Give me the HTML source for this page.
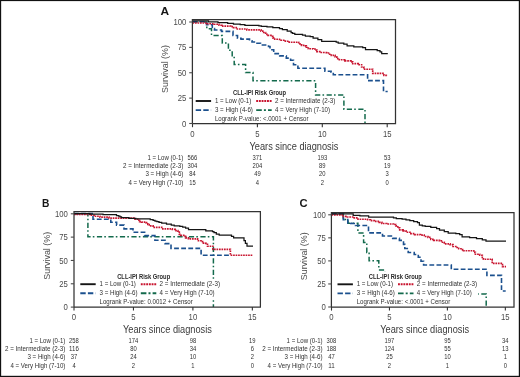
<!DOCTYPE html>
<html><head><meta charset="utf-8"><style>
html,body{margin:0;padding:0;background:#fff;width:520px;height:377px;overflow:hidden}
svg{display:block;filter:blur(0.3px)}
text{font-family:"Liberation Sans", sans-serif}
</style></head><body>
<svg width="520" height="377" viewBox="0 0 520 377" font-family='"Liberation Sans", sans-serif'>
<rect x="0" y="0" width="520" height="377" fill="#fff"/>
<text x="160.6" y="14.9" font-size="11" text-anchor="start" font-weight="bold" fill="#161616" textLength="8.6" lengthAdjust="spacingAndGlyphs">A</text>
<path d="M192.50,22.00 H206.80 V28.80 H211.50 V35.50 H222.30 V42.90 H228.40 V50.30 H232.20 V57.50 H234.20 V64.50 H245.60 V72.60 H253.00 V80.70 H315.60 V94.90 H343.90 V109.20 H365.00 V123.50" fill="none" stroke="#136a4c" stroke-width="1.5" stroke-dasharray="5.2 2.2 1.6 2.5" stroke-linejoin="miter" stroke-linecap="butt"/>
<path d="M192.50,21.80 H206.50 V24.70 H212.30 V28.50 H214.50 V30.00 H221.50 V31.40 H233.00 V35.50 H237.50 V38.20 H241.00 V39.10 H249.50 V40.80 H252.00 V42.00 H257.00 V43.30 H260.50 V45.00 H268.50 V46.50 H270.00 V49.70 H273.70 V53.60 H279.70 V55.90 H286.30 V58.10 H290.60 V60.30 H293.50 V64.70 H297.90 V68.30 H324.90 V71.20 H331.10 V72.30 H333.30 V74.70 H367.60 V80.60 H383.50 V91.50 H387.70 V91.50" fill="none" stroke="#1b508e" stroke-width="1.6" stroke-dasharray="4.8 2.3" stroke-linejoin="miter" stroke-linecap="butt"/>
<path d="M192.50,23.00 H207.00 V23.70 H214.20 V24.20 H219.00 V25.20 H221.90 V26.10 H230.60 V26.60 H233.50 V27.60 H237.30 V29.00 H246.80 V29.80 H261.00 V31.10 H263.70 V32.50 H265.60 V34.40 H268.00 V35.40 H270.90 V36.30 H272.80 V37.80 H274.70 V39.20 H279.50 V40.20 H285.30 V41.20 H289.20 V42.20 H298.70 V43.90 H301.50 V45.30 H304.40 V45.80 H306.30 V47.20 H308.30 V48.70 H313.10 V49.00 H315.00 V50.10 H316.90 V51.60 H319.80 V52.50 H326.50 V53.00 H328.50 V54.20 H331.30 V55.40 H335.20 V56.80 H336.80 V58.60 H339.30 V59.70 H344.90 V60.80 H351.00 V61.90 H352.70 V63.60 H358.30 V64.70 H361.60 V67.00 H363.80 V69.20 H372.70 V73.40 H383.90 V75.30 H387.80 V75.30" fill="none" stroke="#c8142f" stroke-width="1.65" stroke-dasharray="1.7 0.8" stroke-linejoin="miter" stroke-linecap="butt"/>
<path d="M192.50,20.90 H208.50 V21.80 H218.00 V22.60 H227.70 V23.30 H233.50 V24.20 H240.20 V24.60 H244.90 V25.30 H258.90 V25.80 H261.30 V26.30 H267.00 V26.90 H272.80 V27.70 H279.50 V28.50 H282.40 V29.60 H287.20 V31.10 H291.10 V32.60 H292.50 V33.30 H294.80 V34.30 H302.50 V35.20 H305.40 V36.20 H310.20 V36.70 H313.10 V38.10 H317.90 V39.50 H321.70 V41.30 H336.20 V42.00 H338.20 V43.00 H343.80 V44.10 H347.10 V45.80 H353.80 V46.90 H362.70 V47.50 H365.50 V49.70 H377.20 V50.50 H380.00 V51.90 H381.70 V53.60 H387.80 V53.60" fill="none" stroke="#151515" stroke-width="1.25" stroke-linejoin="miter" stroke-linecap="butt"/>
<path d="M192.4,123.6 V19.7 H395.5 V123.6 H192.4" fill="none" stroke="#333" stroke-width="1.25"/>
<line x1="189.20000000000002" y1="123.50" x2="192.4" y2="123.50" stroke="#4a4a4a" stroke-width="1.1"/>
<text x="186.4" y="126.6" font-size="8.9" text-anchor="end" font-weight="normal" fill="#4a4a4a" textLength="4.31" lengthAdjust="spacingAndGlyphs">0</text>
<line x1="189.20000000000002" y1="98.12" x2="192.4" y2="98.12" stroke="#4a4a4a" stroke-width="1.1"/>
<text x="186.4" y="101.22" font-size="8.9" text-anchor="end" font-weight="normal" fill="#4a4a4a" textLength="8.61" lengthAdjust="spacingAndGlyphs">25</text>
<line x1="189.20000000000002" y1="72.75" x2="192.4" y2="72.75" stroke="#4a4a4a" stroke-width="1.1"/>
<text x="186.4" y="75.85" font-size="8.9" text-anchor="end" font-weight="normal" fill="#4a4a4a" textLength="8.61" lengthAdjust="spacingAndGlyphs">50</text>
<line x1="189.20000000000002" y1="47.38" x2="192.4" y2="47.38" stroke="#4a4a4a" stroke-width="1.1"/>
<text x="186.4" y="50.48" font-size="8.9" text-anchor="end" font-weight="normal" fill="#4a4a4a" textLength="8.61" lengthAdjust="spacingAndGlyphs">75</text>
<line x1="189.20000000000002" y1="22.00" x2="192.4" y2="22.00" stroke="#4a4a4a" stroke-width="1.1"/>
<text x="186.4" y="25.1" font-size="8.9" text-anchor="end" font-weight="normal" fill="#4a4a4a" textLength="12.92" lengthAdjust="spacingAndGlyphs">100</text>
<line x1="192.50" y1="123.6" x2="192.50" y2="127.19999999999999" stroke="#333" stroke-width="1.1"/>
<text x="192.5" y="137.0" font-size="8.9" text-anchor="middle" font-weight="normal" fill="#4a4a4a" textLength="4.31" lengthAdjust="spacingAndGlyphs">0</text>
<line x1="257.40" y1="123.6" x2="257.40" y2="127.19999999999999" stroke="#333" stroke-width="1.1"/>
<text x="257.4" y="137.0" font-size="8.9" text-anchor="middle" font-weight="normal" fill="#4a4a4a" textLength="4.31" lengthAdjust="spacingAndGlyphs">5</text>
<line x1="322.30" y1="123.6" x2="322.30" y2="127.19999999999999" stroke="#333" stroke-width="1.1"/>
<text x="322.3" y="137.0" font-size="8.9" text-anchor="middle" font-weight="normal" fill="#4a4a4a" textLength="8.61" lengthAdjust="spacingAndGlyphs">10</text>
<line x1="387.20" y1="123.6" x2="387.20" y2="127.19999999999999" stroke="#333" stroke-width="1.1"/>
<text x="387.2" y="137.0" font-size="8.9" text-anchor="middle" font-weight="normal" fill="#4a4a4a" textLength="8.61" lengthAdjust="spacingAndGlyphs">15</text>
<text transform="translate(168.2,69.0) rotate(-90)" x="0" y="0" font-size="8.9" text-anchor="middle" fill="#4a4a4a">Survival (%)</text>
<text x="249.5" y="149.9" font-size="10.0" text-anchor="start" font-weight="normal" fill="#3a3a3a" textLength="88.9" lengthAdjust="spacingAndGlyphs">Years since diagnosis</text>
<text x="233.0" y="94.9" font-size="6.4" text-anchor="start" font-weight="bold" fill="#2a2a2a" textLength="53.0" lengthAdjust="spacingAndGlyphs">CLL-IPI Risk Group</text>
<line x1="195.7" y1="101.0" x2="211.1" y2="101.0" stroke="#151515" stroke-width="1.9"/>
<line x1="256.2" y1="101.0" x2="271.7" y2="101.0" stroke="#c8142f" stroke-width="1.9" stroke-dasharray="1.9 0.8"/>
<line x1="195.7" y1="110.1" x2="211.1" y2="110.1" stroke="#1b508e" stroke-width="1.9" stroke-dasharray="5.4 2.2"/>
<line x1="256.2" y1="110.1" x2="271.7" y2="110.1" stroke="#136a4c" stroke-width="1.9" stroke-dasharray="5.6 2.1 2 2.1"/>
<text x="214.89999999999998" y="102.9" font-size="6.5" text-anchor="start" font-weight="normal" fill="#303030" textLength="36.4" lengthAdjust="spacingAndGlyphs">1 = Low (0-1)</text>
<text x="275.0" y="102.9" font-size="6.5" text-anchor="start" font-weight="normal" fill="#303030" textLength="60.4" lengthAdjust="spacingAndGlyphs">2 = Intermediate (2-3)</text>
<text x="214.89999999999998" y="112.0" font-size="6.5" text-anchor="start" font-weight="normal" fill="#303030" textLength="38.0" lengthAdjust="spacingAndGlyphs">3 = High (4-6)</text>
<text x="275.0" y="112.0" font-size="6.5" text-anchor="start" font-weight="normal" fill="#303030" textLength="55.0" lengthAdjust="spacingAndGlyphs">4 = Very High (7-10)</text>
<text x="214.89999999999998" y="120.80000000000001" font-size="6.5" text-anchor="start" font-weight="normal" fill="#303030" textLength="93.6" lengthAdjust="spacingAndGlyphs">Logrank P-value: &lt;.0001 + Censor</text>
<text x="183.4" y="159.8" font-size="6.5" text-anchor="end" font-weight="normal" fill="#303030" textLength="36.0" lengthAdjust="spacingAndGlyphs">1 = Low (0-1)</text>
<text x="192.5" y="159.8" font-size="6.5" text-anchor="middle" font-weight="normal" fill="#303030" textLength="9.76" lengthAdjust="spacingAndGlyphs">566</text>
<text x="257.4" y="159.8" font-size="6.5" text-anchor="middle" font-weight="normal" fill="#303030" textLength="9.76" lengthAdjust="spacingAndGlyphs">371</text>
<text x="322.3" y="159.8" font-size="6.5" text-anchor="middle" font-weight="normal" fill="#303030" textLength="9.76" lengthAdjust="spacingAndGlyphs">193</text>
<text x="387.2" y="159.8" font-size="6.5" text-anchor="middle" font-weight="normal" fill="#303030" textLength="6.51" lengthAdjust="spacingAndGlyphs">53</text>
<text x="183.4" y="168.0" font-size="6.5" text-anchor="end" font-weight="normal" fill="#303030" textLength="60.4" lengthAdjust="spacingAndGlyphs">2 = Intermediate (2-3)</text>
<text x="192.5" y="168.0" font-size="6.5" text-anchor="middle" font-weight="normal" fill="#303030" textLength="9.76" lengthAdjust="spacingAndGlyphs">304</text>
<text x="257.4" y="168.0" font-size="6.5" text-anchor="middle" font-weight="normal" fill="#303030" textLength="9.76" lengthAdjust="spacingAndGlyphs">204</text>
<text x="322.3" y="168.0" font-size="6.5" text-anchor="middle" font-weight="normal" fill="#303030" textLength="6.51" lengthAdjust="spacingAndGlyphs">89</text>
<text x="387.2" y="168.0" font-size="6.5" text-anchor="middle" font-weight="normal" fill="#303030" textLength="6.51" lengthAdjust="spacingAndGlyphs">19</text>
<text x="183.4" y="176.3" font-size="6.5" text-anchor="end" font-weight="normal" fill="#303030" textLength="38.0" lengthAdjust="spacingAndGlyphs">3 = High (4-6)</text>
<text x="192.5" y="176.3" font-size="6.5" text-anchor="middle" font-weight="normal" fill="#303030" textLength="6.51" lengthAdjust="spacingAndGlyphs">84</text>
<text x="257.4" y="176.3" font-size="6.5" text-anchor="middle" font-weight="normal" fill="#303030" textLength="6.51" lengthAdjust="spacingAndGlyphs">49</text>
<text x="322.3" y="176.3" font-size="6.5" text-anchor="middle" font-weight="normal" fill="#303030" textLength="6.51" lengthAdjust="spacingAndGlyphs">20</text>
<text x="387.2" y="176.3" font-size="6.5" text-anchor="middle" font-weight="normal" fill="#303030" textLength="3.25" lengthAdjust="spacingAndGlyphs">3</text>
<text x="183.4" y="184.5" font-size="6.5" text-anchor="end" font-weight="normal" fill="#303030" textLength="55.0" lengthAdjust="spacingAndGlyphs">4 = Very High (7-10)</text>
<text x="192.5" y="184.5" font-size="6.5" text-anchor="middle" font-weight="normal" fill="#303030" textLength="6.51" lengthAdjust="spacingAndGlyphs">15</text>
<text x="257.4" y="184.5" font-size="6.5" text-anchor="middle" font-weight="normal" fill="#303030" textLength="3.25" lengthAdjust="spacingAndGlyphs">4</text>
<text x="322.3" y="184.5" font-size="6.5" text-anchor="middle" font-weight="normal" fill="#303030" textLength="3.25" lengthAdjust="spacingAndGlyphs">2</text>
<text x="387.2" y="184.5" font-size="6.5" text-anchor="middle" font-weight="normal" fill="#303030" textLength="3.25" lengthAdjust="spacingAndGlyphs">0</text>
<text x="42.0" y="206.8" font-size="11" text-anchor="start" font-weight="bold" fill="#161616" textLength="7.4" lengthAdjust="spacingAndGlyphs">B</text>
<path d="M74.00,213.70 H87.90 V236.80 H213.40 V307.00" fill="none" stroke="#136a4c" stroke-width="1.5" stroke-dasharray="5.2 2.2 1.6 2.5" stroke-linejoin="miter" stroke-linecap="butt"/>
<path d="M74.00,213.60 H93.00 V219.20 H110.80 V222.20 H116.60 V225.10 H124.00 V228.90 H133.00 V232.20 H144.60 V235.60 H154.90 V240.30 H165.00 V243.60 H171.00 V248.40 H201.10 V255.20 H230.40 V255.20" fill="none" stroke="#1b508e" stroke-width="1.6" stroke-dasharray="4.8 2.3" stroke-linejoin="miter" stroke-linecap="butt"/>
<path d="M74.00,214.30 H90.50 V215.20 H94.00 V216.20 H100.00 V217.10 H109.00 V218.10 H134.00 V219.20 H137.70 V220.20 H139.60 V221.60 H141.50 V222.10 H145.90 V222.60 H147.80 V224.50 H149.20 V225.90 H153.10 V227.40 H161.70 V228.80 H172.30 V229.30 H175.20 V230.60 H177.90 V232.10 H179.30 V234.40 H180.80 V235.40 H183.70 V236.30 H185.60 V237.80 H188.50 V238.80 H197.60 V240.70 H201.00 V241.60 H203.40 V243.10 H205.80 V244.20 H207.50 V246.20 H212.90 V249.30 H230.40 V255.20 H253.00 V255.20" fill="none" stroke="#c8142f" stroke-width="1.65" stroke-dasharray="1.7 0.8" stroke-linejoin="miter" stroke-linecap="butt"/>
<path d="M74.00,213.50 H89.80 V214.20 H103.00 V214.70 H116.50 V215.50 H118.60 V216.20 H120.00 V216.90 H121.50 V217.60 H129.00 V218.40 H135.80 V218.90 H150.20 V219.70 H153.10 V220.40 H155.00 V221.10 H156.90 V221.60 H159.00 V222.30 H161.70 V223.10 H166.50 V224.00 H171.30 V225.00 H174.20 V225.90 H179.80 V226.30 H182.70 V227.20 H185.60 V228.20 H188.50 V229.60 H205.80 V230.80 H212.50 V231.60 H214.00 V232.50 H216.30 V234.00 H219.20 V235.20 H231.50 V236.30 H233.60 V237.90 H244.00 V240.60 H245.40 V243.40 H247.00 V246.20 H253.00 V246.20" fill="none" stroke="#151515" stroke-width="1.25" stroke-linejoin="miter" stroke-linecap="butt"/>
<rect x="78" y="279.6" width="146" height="18.4" fill="#fff"/>
<path d="M74.0,307.0 V211.7 H260.4 V307.0 H74.0" fill="none" stroke="#333" stroke-width="1.25"/>
<line x1="70.8" y1="307.10" x2="74.0" y2="307.10" stroke="#4a4a4a" stroke-width="1.1"/>
<text x="67.8" y="310.2" font-size="8.9" text-anchor="end" font-weight="normal" fill="#4a4a4a" textLength="4.31" lengthAdjust="spacingAndGlyphs">0</text>
<line x1="70.8" y1="283.78" x2="74.0" y2="283.78" stroke="#4a4a4a" stroke-width="1.1"/>
<text x="67.8" y="286.88" font-size="8.9" text-anchor="end" font-weight="normal" fill="#4a4a4a" textLength="8.61" lengthAdjust="spacingAndGlyphs">25</text>
<line x1="70.8" y1="260.45" x2="74.0" y2="260.45" stroke="#4a4a4a" stroke-width="1.1"/>
<text x="67.8" y="263.55" font-size="8.9" text-anchor="end" font-weight="normal" fill="#4a4a4a" textLength="8.61" lengthAdjust="spacingAndGlyphs">50</text>
<line x1="70.8" y1="237.12" x2="74.0" y2="237.12" stroke="#4a4a4a" stroke-width="1.1"/>
<text x="67.8" y="240.22" font-size="8.9" text-anchor="end" font-weight="normal" fill="#4a4a4a" textLength="8.61" lengthAdjust="spacingAndGlyphs">75</text>
<line x1="70.8" y1="213.80" x2="74.0" y2="213.80" stroke="#4a4a4a" stroke-width="1.1"/>
<text x="67.8" y="216.9" font-size="8.9" text-anchor="end" font-weight="normal" fill="#4a4a4a" textLength="12.92" lengthAdjust="spacingAndGlyphs">100</text>
<line x1="74.00" y1="307.0" x2="74.00" y2="310.6" stroke="#333" stroke-width="1.1"/>
<text x="74.0" y="319.5" font-size="8.9" text-anchor="middle" font-weight="normal" fill="#4a4a4a" textLength="4.31" lengthAdjust="spacingAndGlyphs">0</text>
<line x1="133.45" y1="307.0" x2="133.45" y2="310.6" stroke="#333" stroke-width="1.1"/>
<text x="133.45" y="319.5" font-size="8.9" text-anchor="middle" font-weight="normal" fill="#4a4a4a" textLength="4.31" lengthAdjust="spacingAndGlyphs">5</text>
<line x1="192.90" y1="307.0" x2="192.90" y2="310.6" stroke="#333" stroke-width="1.1"/>
<text x="192.9" y="319.5" font-size="8.9" text-anchor="middle" font-weight="normal" fill="#4a4a4a" textLength="8.61" lengthAdjust="spacingAndGlyphs">10</text>
<line x1="252.35" y1="307.0" x2="252.35" y2="310.6" stroke="#333" stroke-width="1.1"/>
<text x="252.35" y="319.5" font-size="8.9" text-anchor="middle" font-weight="normal" fill="#4a4a4a" textLength="8.61" lengthAdjust="spacingAndGlyphs">15</text>
<text transform="translate(49.6,255.8) rotate(-90)" x="0" y="0" font-size="8.9" text-anchor="middle" fill="#4a4a4a">Survival (%)</text>
<text x="123.0" y="332.8" font-size="10.0" text-anchor="start" font-weight="normal" fill="#3a3a3a" textLength="88.9" lengthAdjust="spacingAndGlyphs">Years since diagnosis</text>
<text x="117.2" y="278.5" font-size="6.4" text-anchor="start" font-weight="bold" fill="#2a2a2a" textLength="53.0" lengthAdjust="spacingAndGlyphs">CLL-IPI Risk Group</text>
<line x1="80.3" y1="284.2" x2="95.7" y2="284.2" stroke="#151515" stroke-width="1.9"/>
<line x1="140.8" y1="284.2" x2="156.3" y2="284.2" stroke="#c8142f" stroke-width="1.9" stroke-dasharray="1.9 0.8"/>
<line x1="80.3" y1="293.3" x2="95.7" y2="293.3" stroke="#1b508e" stroke-width="1.9" stroke-dasharray="5.4 2.2"/>
<line x1="140.8" y1="293.3" x2="156.3" y2="293.3" stroke="#136a4c" stroke-width="1.9" stroke-dasharray="5.6 2.1 2 2.1"/>
<text x="99.5" y="286.09999999999997" font-size="6.5" text-anchor="start" font-weight="normal" fill="#303030" textLength="36.4" lengthAdjust="spacingAndGlyphs">1 = Low (0-1)</text>
<text x="159.6" y="286.09999999999997" font-size="6.5" text-anchor="start" font-weight="normal" fill="#303030" textLength="60.4" lengthAdjust="spacingAndGlyphs">2 = Intermediate (2-3)</text>
<text x="99.5" y="295.2" font-size="6.5" text-anchor="start" font-weight="normal" fill="#303030" textLength="38.0" lengthAdjust="spacingAndGlyphs">3 = High (4-6)</text>
<text x="159.6" y="295.2" font-size="6.5" text-anchor="start" font-weight="normal" fill="#303030" textLength="55.0" lengthAdjust="spacingAndGlyphs">4 = Very High (7-10)</text>
<text x="99.5" y="303.99999999999994" font-size="6.5" text-anchor="start" font-weight="normal" fill="#303030" textLength="93.3" lengthAdjust="spacingAndGlyphs">Logrank P-value: 0.0012 + Censor</text>
<text x="65.4" y="343.0" font-size="6.5" text-anchor="end" font-weight="normal" fill="#303030" textLength="36.0" lengthAdjust="spacingAndGlyphs">1 = Low (0-1)</text>
<text x="74.0" y="343.0" font-size="6.5" text-anchor="middle" font-weight="normal" fill="#303030" textLength="9.76" lengthAdjust="spacingAndGlyphs">258</text>
<text x="133.45" y="343.0" font-size="6.5" text-anchor="middle" font-weight="normal" fill="#303030" textLength="9.76" lengthAdjust="spacingAndGlyphs">174</text>
<text x="192.9" y="343.0" font-size="6.5" text-anchor="middle" font-weight="normal" fill="#303030" textLength="6.51" lengthAdjust="spacingAndGlyphs">98</text>
<text x="252.35" y="343.0" font-size="6.5" text-anchor="middle" font-weight="normal" fill="#303030" textLength="6.51" lengthAdjust="spacingAndGlyphs">19</text>
<text x="65.4" y="351.2" font-size="6.5" text-anchor="end" font-weight="normal" fill="#303030" textLength="60.4" lengthAdjust="spacingAndGlyphs">2 = Intermediate (2-3)</text>
<text x="74.0" y="351.2" font-size="6.5" text-anchor="middle" font-weight="normal" fill="#303030" textLength="9.76" lengthAdjust="spacingAndGlyphs">116</text>
<text x="133.45" y="351.2" font-size="6.5" text-anchor="middle" font-weight="normal" fill="#303030" textLength="6.51" lengthAdjust="spacingAndGlyphs">80</text>
<text x="192.9" y="351.2" font-size="6.5" text-anchor="middle" font-weight="normal" fill="#303030" textLength="6.51" lengthAdjust="spacingAndGlyphs">34</text>
<text x="252.35" y="351.2" font-size="6.5" text-anchor="middle" font-weight="normal" fill="#303030" textLength="3.25" lengthAdjust="spacingAndGlyphs">6</text>
<text x="65.4" y="359.4" font-size="6.5" text-anchor="end" font-weight="normal" fill="#303030" textLength="38.0" lengthAdjust="spacingAndGlyphs">3 = High (4-6)</text>
<text x="74.0" y="359.4" font-size="6.5" text-anchor="middle" font-weight="normal" fill="#303030" textLength="6.51" lengthAdjust="spacingAndGlyphs">37</text>
<text x="133.45" y="359.4" font-size="6.5" text-anchor="middle" font-weight="normal" fill="#303030" textLength="6.51" lengthAdjust="spacingAndGlyphs">24</text>
<text x="192.9" y="359.4" font-size="6.5" text-anchor="middle" font-weight="normal" fill="#303030" textLength="6.51" lengthAdjust="spacingAndGlyphs">10</text>
<text x="252.35" y="359.4" font-size="6.5" text-anchor="middle" font-weight="normal" fill="#303030" textLength="3.25" lengthAdjust="spacingAndGlyphs">2</text>
<text x="65.4" y="367.6" font-size="6.5" text-anchor="end" font-weight="normal" fill="#303030" textLength="55.0" lengthAdjust="spacingAndGlyphs">4 = Very High (7-10)</text>
<text x="74.0" y="367.6" font-size="6.5" text-anchor="middle" font-weight="normal" fill="#303030" textLength="3.25" lengthAdjust="spacingAndGlyphs">4</text>
<text x="133.45" y="367.6" font-size="6.5" text-anchor="middle" font-weight="normal" fill="#303030" textLength="3.25" lengthAdjust="spacingAndGlyphs">2</text>
<text x="192.9" y="367.6" font-size="6.5" text-anchor="middle" font-weight="normal" fill="#303030" textLength="3.25" lengthAdjust="spacingAndGlyphs">1</text>
<text x="252.35" y="367.6" font-size="6.5" text-anchor="middle" font-weight="normal" fill="#303030" textLength="3.25" lengthAdjust="spacingAndGlyphs">0</text>
<text x="299.6" y="207.2" font-size="11" text-anchor="start" font-weight="bold" fill="#161616" textLength="8.1" lengthAdjust="spacingAndGlyphs">C</text>
<path d="M331.50,213.80 H343.30 V219.60 H348.00 V223.20 H357.90 V232.90 H363.60 V242.40 H366.80 V252.50 H369.10 V260.80 H378.80 V269.90 H385.00 V294.00 H486.20 V307.00" fill="none" stroke="#136a4c" stroke-width="1.5" stroke-dasharray="5.2 2.2 1.6 2.5" stroke-linejoin="miter" stroke-linecap="butt"/>
<path d="M331.50,213.80 H343.30 V219.60 H347.80 V223.00 H350.80 V223.50 H355.50 V225.50 H368.50 V232.90 H382.50 V236.00 H392.70 V238.40 H399.40 V240.40 H403.50 V244.40 H404.80 V248.50 H408.20 V252.50 H414.20 V254.50 H418.30 V257.20 H421.00 V261.20 H423.60 V265.00 H451.30 V269.20 H486.90 V275.40 H501.50 V291.00 H505.70 V291.00" fill="none" stroke="#1b508e" stroke-width="1.6" stroke-dasharray="4.8 2.3" stroke-linejoin="miter" stroke-linecap="butt"/>
<path d="M331.50,214.80 H342.20 V216.30 H347.40 V217.00 H354.20 V217.90 H358.00 V219.20 H367.60 V219.70 H370.50 V220.60 H374.30 V221.40 H379.20 V222.30 H381.90 V223.50 H386.70 V224.00 H393.50 V224.50 H395.90 V225.90 H397.80 V227.90 H399.70 V229.80 H403.10 V230.80 H406.00 V232.20 H410.80 V233.60 H414.60 V234.60 H420.40 V235.10 H424.20 V236.50 H428.00 V237.40 H430.80 V239.30 H433.70 V240.30 H439.50 V240.80 H441.40 V242.20 H444.30 V243.90 H450.10 V244.60 H453.00 V246.50 H455.80 V247.50 H458.70 V248.70 H462.60 V249.90 H463.50 V250.70 H473.80 V252.30 H475.40 V254.20 H479.70 V255.20 H482.30 V257.40 H483.40 V259.20 H492.20 V263.40 H502.50 V266.60 H506.00 V266.60" fill="none" stroke="#c8142f" stroke-width="1.65" stroke-dasharray="1.7 0.8" stroke-linejoin="miter" stroke-linecap="butt"/>
<path d="M331.50,213.80 H353.20 V215.30 H359.90 V215.80 H368.60 V217.00 H386.70 V217.20 H393.50 V217.80 H396.30 V218.50 H402.10 V219.20 H406.00 V219.90 H409.80 V220.70 H413.70 V221.60 H417.50 V222.60 H419.40 V225.00 H422.30 V225.90 H425.20 V226.30 H430.80 V227.30 H436.60 V228.70 H439.50 V230.20 H444.30 V231.60 H448.20 V233.10 H455.80 V233.50 H459.70 V234.50 H462.10 V236.90 H469.60 V237.60 H476.50 V238.50 H482.30 V239.80 H486.00 V241.10 H506.00 V241.10" fill="none" stroke="#151515" stroke-width="1.25" stroke-linejoin="miter" stroke-linecap="butt"/>
<rect x="335" y="271.2" width="143" height="26.4" fill="#fff"/>
<path d="M331.4,307.0 V212.6 H514.0 V307.0 H331.4" fill="none" stroke="#333" stroke-width="1.25"/>
<line x1="328.2" y1="307.00" x2="331.4" y2="307.00" stroke="#4a4a4a" stroke-width="1.1"/>
<text x="325.9" y="310.1" font-size="8.9" text-anchor="end" font-weight="normal" fill="#4a4a4a" textLength="4.31" lengthAdjust="spacingAndGlyphs">0</text>
<line x1="328.2" y1="283.95" x2="331.4" y2="283.95" stroke="#4a4a4a" stroke-width="1.1"/>
<text x="325.9" y="287.05" font-size="8.9" text-anchor="end" font-weight="normal" fill="#4a4a4a" textLength="8.61" lengthAdjust="spacingAndGlyphs">25</text>
<line x1="328.2" y1="260.90" x2="331.4" y2="260.90" stroke="#4a4a4a" stroke-width="1.1"/>
<text x="325.9" y="264.0" font-size="8.9" text-anchor="end" font-weight="normal" fill="#4a4a4a" textLength="8.61" lengthAdjust="spacingAndGlyphs">50</text>
<line x1="328.2" y1="237.85" x2="331.4" y2="237.85" stroke="#4a4a4a" stroke-width="1.1"/>
<text x="325.9" y="240.95" font-size="8.9" text-anchor="end" font-weight="normal" fill="#4a4a4a" textLength="8.61" lengthAdjust="spacingAndGlyphs">75</text>
<line x1="328.2" y1="214.80" x2="331.4" y2="214.80" stroke="#4a4a4a" stroke-width="1.1"/>
<text x="325.9" y="217.9" font-size="8.9" text-anchor="end" font-weight="normal" fill="#4a4a4a" textLength="12.92" lengthAdjust="spacingAndGlyphs">100</text>
<line x1="331.50" y1="307.0" x2="331.50" y2="310.6" stroke="#333" stroke-width="1.1"/>
<text x="331.5" y="319.5" font-size="8.9" text-anchor="middle" font-weight="normal" fill="#4a4a4a" textLength="4.31" lengthAdjust="spacingAndGlyphs">0</text>
<line x1="389.45" y1="307.0" x2="389.45" y2="310.6" stroke="#333" stroke-width="1.1"/>
<text x="389.45" y="319.5" font-size="8.9" text-anchor="middle" font-weight="normal" fill="#4a4a4a" textLength="4.31" lengthAdjust="spacingAndGlyphs">5</text>
<line x1="447.40" y1="307.0" x2="447.40" y2="310.6" stroke="#333" stroke-width="1.1"/>
<text x="447.4" y="319.5" font-size="8.9" text-anchor="middle" font-weight="normal" fill="#4a4a4a" textLength="8.61" lengthAdjust="spacingAndGlyphs">10</text>
<line x1="505.35" y1="307.0" x2="505.35" y2="310.6" stroke="#333" stroke-width="1.1"/>
<text x="505.35" y="319.5" font-size="8.9" text-anchor="middle" font-weight="normal" fill="#4a4a4a" textLength="8.61" lengthAdjust="spacingAndGlyphs">15</text>
<text transform="translate(306.9,256.3) rotate(-90)" x="0" y="0" font-size="8.9" text-anchor="middle" fill="#4a4a4a">Survival (%)</text>
<text x="380.2" y="332.8" font-size="10.0" text-anchor="start" font-weight="normal" fill="#3a3a3a" textLength="88.9" lengthAdjust="spacingAndGlyphs">Years since diagnosis</text>
<text x="368.8" y="278.5" font-size="6.4" text-anchor="start" font-weight="bold" fill="#2a2a2a" textLength="53.0" lengthAdjust="spacingAndGlyphs">CLL-IPI Risk Group</text>
<line x1="337.5" y1="284.3" x2="352.9" y2="284.3" stroke="#151515" stroke-width="1.9"/>
<line x1="398.0" y1="284.3" x2="413.5" y2="284.3" stroke="#c8142f" stroke-width="1.9" stroke-dasharray="1.9 0.8"/>
<line x1="337.5" y1="293.40000000000003" x2="352.9" y2="293.40000000000003" stroke="#1b508e" stroke-width="1.9" stroke-dasharray="5.4 2.2"/>
<line x1="398.0" y1="293.40000000000003" x2="413.5" y2="293.40000000000003" stroke="#136a4c" stroke-width="1.9" stroke-dasharray="5.6 2.1 2 2.1"/>
<text x="356.7" y="286.2" font-size="6.5" text-anchor="start" font-weight="normal" fill="#303030" textLength="36.4" lengthAdjust="spacingAndGlyphs">1 = Low (0-1)</text>
<text x="416.8" y="286.2" font-size="6.5" text-anchor="start" font-weight="normal" fill="#303030" textLength="60.4" lengthAdjust="spacingAndGlyphs">2 = Intermediate (2-3)</text>
<text x="356.7" y="295.3" font-size="6.5" text-anchor="start" font-weight="normal" fill="#303030" textLength="38.0" lengthAdjust="spacingAndGlyphs">3 = High (4-6)</text>
<text x="416.8" y="295.3" font-size="6.5" text-anchor="start" font-weight="normal" fill="#303030" textLength="55.0" lengthAdjust="spacingAndGlyphs">4 = Very High (7-10)</text>
<text x="356.7" y="304.09999999999997" font-size="6.5" text-anchor="start" font-weight="normal" fill="#303030" textLength="93.6" lengthAdjust="spacingAndGlyphs">Logrank P-value: &lt;.0001 + Censor</text>
<text x="322.6" y="343.0" font-size="6.5" text-anchor="end" font-weight="normal" fill="#303030" textLength="36.0" lengthAdjust="spacingAndGlyphs">1 = Low (0-1)</text>
<text x="331.5" y="343.0" font-size="6.5" text-anchor="middle" font-weight="normal" fill="#303030" textLength="9.76" lengthAdjust="spacingAndGlyphs">308</text>
<text x="389.45" y="343.0" font-size="6.5" text-anchor="middle" font-weight="normal" fill="#303030" textLength="9.76" lengthAdjust="spacingAndGlyphs">197</text>
<text x="447.4" y="343.0" font-size="6.5" text-anchor="middle" font-weight="normal" fill="#303030" textLength="6.51" lengthAdjust="spacingAndGlyphs">95</text>
<text x="505.35" y="343.0" font-size="6.5" text-anchor="middle" font-weight="normal" fill="#303030" textLength="6.51" lengthAdjust="spacingAndGlyphs">34</text>
<text x="322.6" y="351.2" font-size="6.5" text-anchor="end" font-weight="normal" fill="#303030" textLength="60.4" lengthAdjust="spacingAndGlyphs">2 = Intermediate (2-3)</text>
<text x="331.5" y="351.2" font-size="6.5" text-anchor="middle" font-weight="normal" fill="#303030" textLength="9.76" lengthAdjust="spacingAndGlyphs">188</text>
<text x="389.45" y="351.2" font-size="6.5" text-anchor="middle" font-weight="normal" fill="#303030" textLength="9.76" lengthAdjust="spacingAndGlyphs">124</text>
<text x="447.4" y="351.2" font-size="6.5" text-anchor="middle" font-weight="normal" fill="#303030" textLength="6.51" lengthAdjust="spacingAndGlyphs">55</text>
<text x="505.35" y="351.2" font-size="6.5" text-anchor="middle" font-weight="normal" fill="#303030" textLength="6.51" lengthAdjust="spacingAndGlyphs">13</text>
<text x="322.6" y="359.4" font-size="6.5" text-anchor="end" font-weight="normal" fill="#303030" textLength="38.0" lengthAdjust="spacingAndGlyphs">3 = High (4-6)</text>
<text x="331.5" y="359.4" font-size="6.5" text-anchor="middle" font-weight="normal" fill="#303030" textLength="6.51" lengthAdjust="spacingAndGlyphs">47</text>
<text x="389.45" y="359.4" font-size="6.5" text-anchor="middle" font-weight="normal" fill="#303030" textLength="6.51" lengthAdjust="spacingAndGlyphs">25</text>
<text x="447.4" y="359.4" font-size="6.5" text-anchor="middle" font-weight="normal" fill="#303030" textLength="6.51" lengthAdjust="spacingAndGlyphs">10</text>
<text x="505.35" y="359.4" font-size="6.5" text-anchor="middle" font-weight="normal" fill="#303030" textLength="3.25" lengthAdjust="spacingAndGlyphs">1</text>
<text x="322.6" y="367.6" font-size="6.5" text-anchor="end" font-weight="normal" fill="#303030" textLength="55.0" lengthAdjust="spacingAndGlyphs">4 = Very High (7-10)</text>
<text x="331.5" y="367.6" font-size="6.5" text-anchor="middle" font-weight="normal" fill="#303030" textLength="6.51" lengthAdjust="spacingAndGlyphs">11</text>
<text x="389.45" y="367.6" font-size="6.5" text-anchor="middle" font-weight="normal" fill="#303030" textLength="3.25" lengthAdjust="spacingAndGlyphs">2</text>
<text x="447.4" y="367.6" font-size="6.5" text-anchor="middle" font-weight="normal" fill="#303030" textLength="3.25" lengthAdjust="spacingAndGlyphs">1</text>
<text x="505.35" y="367.6" font-size="6.5" text-anchor="middle" font-weight="normal" fill="#303030" textLength="3.25" lengthAdjust="spacingAndGlyphs">0</text>
<rect x="0" y="0" width="520" height="1.1" fill="#111"/>
<rect x="0" y="0" width="1.15" height="377" fill="#111"/>
<rect x="518.8" y="0" width="1.2" height="377" fill="#111"/>
<rect x="0" y="375.8" width="520" height="1.2" fill="#111"/>
</svg>
</body></html>
